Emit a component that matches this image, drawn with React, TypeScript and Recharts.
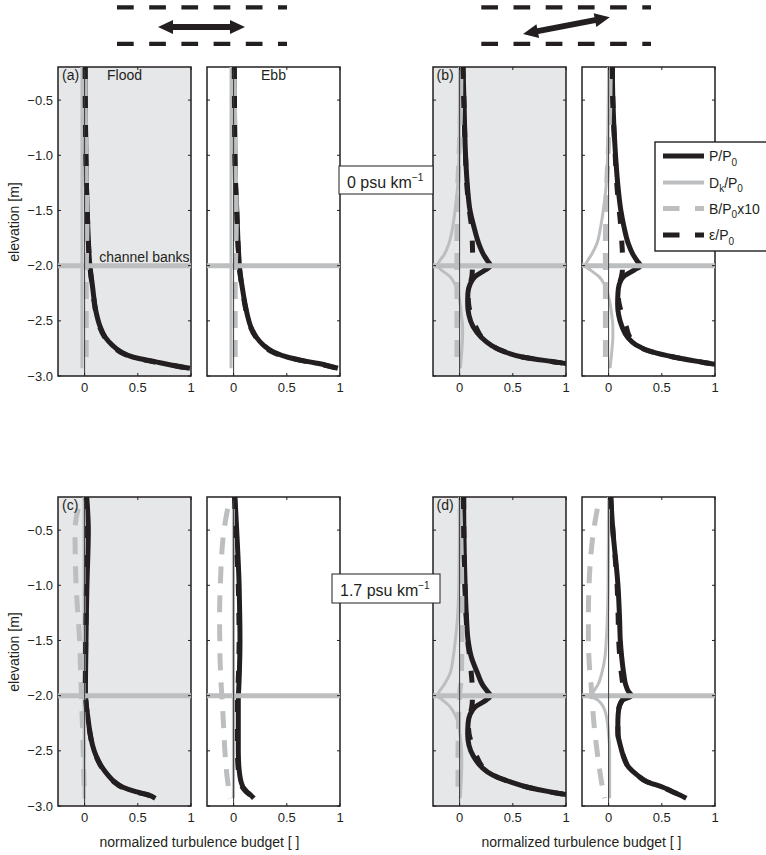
import React from 'react';
import { LineChart, Line, XAxis, YAxis, ReferenceLine, ReferenceArea, CartesianGrid } from 'recharts';

// ---------- shared axes ----------
const ELEVATION = [-0.2, -0.5, -1.0, -1.3, -1.5, -1.65, -1.8, -1.9, -1.96, -2.0, -2.04, -2.1, -2.17, -2.25, -2.35, -2.45, -2.55, -2.65, -2.72, -2.78, -2.83, -2.87, -2.9, -2.93];
const Y_TICKS = [-3.0, -2.5, -2.0, -1.5, -1.0, -0.5];
const X_TICKS = [0, 0.5, 1];
const X_DOMAIN: [number, number] = [-0.25, 1];
const Y_DOMAIN: [number, number] = [-3.0, -0.2];
const CHANNEL_BANKS = -2.0;

// ---------- (a) 0 psu/km, flood ----------
const A_FLOOD_P = [0.005, 0.006, 0.012, 0.018, 0.025, 0.03, 0.037, 0.042, 0.046, 0.05, 0.055, 0.062, 0.072, 0.082, 0.095, 0.115, 0.145, 0.195, 0.26, 0.34, 0.46, 0.66, 0.81, 0.99];
const A_FLOOD_DK = [-0.025, -0.025, -0.025, -0.025, -0.025, -0.025, -0.025, -0.025, -0.025, -0.025, -0.025, -0.025, -0.025, -0.025, -0.025, -0.025, -0.025, -0.025, -0.025, -0.025, -0.025, -0.025, -0.025, -0.025];
const A_FLOOD_B = [0.005, 0.006, 0.012, 0.018, 0.022, 0.022, 0.02, 0.018, 0.017, 0.016, 0.015, 0.015, 0.015, 0.015, 0.015, 0.015, 0.015, 0.015, 0.015, 0.015, 0.015, 0.015, 0.015, 0.015];
const A_FLOOD_E = [0.005, 0.006, 0.012, 0.018, 0.025, 0.03, 0.036, 0.041, 0.045, 0.049, 0.053, 0.06, 0.07, 0.08, 0.093, 0.112, 0.14, 0.19, 0.25, 0.33, 0.45, 0.64, 0.8, 0.98];
// ---------- (a) 0 psu/km, ebb ----------
const A_EBB_P = [0.006, 0.008, 0.012, 0.02, 0.03, 0.036, 0.042, 0.048, 0.052, 0.054, 0.058, 0.066, 0.077, 0.09, 0.108, 0.13, 0.16, 0.215, 0.28, 0.37, 0.51, 0.7, 0.86, 0.98];
const A_EBB_DK = [-0.024, -0.024, -0.024, -0.024, -0.024, -0.024, -0.024, -0.024, -0.024, -0.024, -0.024, -0.024, -0.024, -0.024, -0.024, -0.024, -0.024, -0.024, -0.024, -0.024, -0.024, -0.024, -0.024, -0.024];
const A_EBB_B = [0.006, 0.008, 0.012, 0.02, 0.025, 0.025, 0.022, 0.02, 0.018, 0.017, 0.016, 0.015, 0.015, 0.015, 0.015, 0.015, 0.015, 0.015, 0.015, 0.015, 0.015, 0.015, 0.015, 0.015];
const A_EBB_E = [0.006, 0.008, 0.012, 0.02, 0.029, 0.035, 0.041, 0.047, 0.051, 0.053, 0.057, 0.064, 0.075, 0.088, 0.105, 0.127, 0.156, 0.21, 0.275, 0.36, 0.5, 0.69, 0.85, 0.97];
// ---------- (b) 0 psu/km, flood ----------
const B_FLOOD_P = [0.032, 0.041, 0.056, 0.075, 0.098, 0.135, 0.18, 0.225, 0.265, 0.29, 0.24, 0.145, 0.098, 0.078, 0.076, 0.088, 0.125, 0.205, 0.295, 0.42, 0.6, 0.88, 1.1, 1.4];
const B_FLOOD_DK = [0.0, -0.002, -0.006, -0.02, -0.043, -0.065, -0.1, -0.145, -0.19, -0.21, -0.17, -0.09, -0.043, -0.012, 0.005, 0.018, 0.028, 0.028, 0.024, 0.02, 0.016, 0.013, 0.01, 0.008];
const B_FLOOD_B = [0.012, 0.01, -0.005, -0.018, -0.022, -0.025, -0.025, -0.025, -0.025, -0.025, -0.025, -0.025, -0.025, -0.025, -0.025, -0.025, -0.025, -0.025, -0.025, -0.025, -0.025, -0.025, -0.025, -0.025];
const B_FLOOD_E = [0.032, 0.04, 0.055, 0.07, 0.092, 0.112, 0.12, 0.122, 0.122, 0.121, 0.12, 0.115, 0.098, 0.08, 0.085, 0.11, 0.15, 0.21, 0.295, 0.42, 0.6, 0.88, 1.1, 1.4];
// ---------- (b) 0 psu/km, ebb ----------
const B_EBB_P = [0.035, 0.04, 0.065, 0.09, 0.115, 0.145, 0.185, 0.23, 0.27, 0.3, 0.24, 0.14, 0.1, 0.088, 0.085, 0.095, 0.125, 0.18, 0.26, 0.4, 0.62, 0.85, 1.05, 1.35];
const B_EBB_DK = [0.0, -0.003, -0.01, -0.025, -0.05, -0.075, -0.11, -0.16, -0.2, -0.22, -0.17, -0.09, -0.04, -0.01, 0.015, 0.03, 0.04, 0.04, 0.035, 0.03, 0.025, 0.02, 0.017, 0.015];
const B_EBB_B = [0.015, 0.012, -0.005, -0.02, -0.025, -0.028, -0.03, -0.03, -0.03, -0.03, -0.03, -0.03, -0.03, -0.03, -0.03, -0.03, -0.03, -0.03, -0.03, -0.03, -0.03, -0.03, -0.03, -0.03];
const B_EBB_E = [0.035, 0.04, 0.062, 0.08, 0.1, 0.115, 0.125, 0.13, 0.13, 0.13, 0.13, 0.12, 0.1, 0.09, 0.1, 0.13, 0.165, 0.2, 0.26, 0.4, 0.62, 0.85, 1.05, 1.35];
// ---------- (c) 1.7 psu/km, flood ----------
const C_FLOOD_P = [0.02, 0.035, 0.022, 0.016, 0.013, 0.011, 0.009, 0.008, 0.008, 0.009, 0.012, 0.018, 0.027, 0.038, 0.053, 0.075, 0.11, 0.165, 0.22, 0.28, 0.36, 0.48, 0.6, 0.665];
const C_FLOOD_DK = [-0.005, -0.005, -0.005, -0.005, -0.005, -0.005, -0.005, -0.005, -0.005, -0.005, -0.005, -0.005, -0.005, -0.005, -0.005, -0.005, -0.005, -0.005, -0.005, -0.005, -0.005, -0.005, -0.005, -0.005];
const C_FLOOD_B = [-0.03, -0.09, -0.08, -0.06, -0.047, -0.042, -0.037, -0.033, -0.031, -0.03, -0.028, -0.026, -0.024, -0.021, -0.018, -0.015, -0.012, -0.009, -0.007, -0.005, -0.003, -0.002, 0.0, 0.0];
const C_FLOOD_E = [0.015, 0.028, 0.018, 0.013, 0.01, 0.009, 0.008, 0.007, 0.007, 0.008, 0.011, 0.017, 0.026, 0.037, 0.052, 0.073, 0.108, 0.16, 0.215, 0.275, 0.35, 0.47, 0.59, 0.655];
// ---------- (c) 1.7 psu/km, ebb ----------
const C_EBB_P = [0.013, 0.029, 0.052, 0.058, 0.06, 0.058, 0.054, 0.05, 0.047, 0.045, 0.044, 0.044, 0.044, 0.044, 0.044, 0.044, 0.045, 0.05, 0.058, 0.07, 0.09, 0.125, 0.16, 0.19];
const C_EBB_DK = [-0.002, -0.002, -0.002, -0.002, -0.002, -0.002, -0.002, -0.002, -0.002, -0.002, -0.002, -0.002, -0.002, -0.002, -0.002, -0.002, -0.002, -0.002, -0.002, -0.002, -0.002, -0.002, -0.002, -0.002];
const C_EBB_B = [-0.034, -0.09, -0.125, -0.132, -0.13, -0.128, -0.122, -0.117, -0.113, -0.11, -0.108, -0.104, -0.1, -0.096, -0.09, -0.085, -0.078, -0.07, -0.063, -0.055, -0.048, -0.042, -0.037, -0.033];
const C_EBB_E = [0.008, 0.021, 0.044, 0.05, 0.052, 0.05, 0.046, 0.042, 0.039, 0.037, 0.036, 0.036, 0.036, 0.036, 0.036, 0.036, 0.037, 0.042, 0.05, 0.062, 0.082, 0.117, 0.152, 0.182];
// ---------- (d) 1.7 psu/km, flood ----------
const D_FLOOD_P = [0.038, 0.04, 0.052, 0.065, 0.08, 0.11, 0.17, 0.215, 0.26, 0.29, 0.25, 0.15, 0.098, 0.08, 0.076, 0.088, 0.13, 0.21, 0.31, 0.47, 0.64, 0.84, 1.03, 1.3];
const D_FLOOD_DK = [0.0, -0.002, -0.008, -0.02, -0.04, -0.06, -0.09, -0.145, -0.19, -0.21, -0.16, -0.09, -0.045, -0.012, 0.003, 0.015, 0.02, 0.02, 0.018, 0.015, 0.012, 0.01, 0.008, 0.006];
const D_FLOOD_B = [0.0, 0.01, 0.02, 0.022, 0.022, 0.02, 0.018, 0.01, 0.002, 0.0, -0.002, -0.005, -0.008, -0.01, -0.012, -0.014, -0.015, -0.015, -0.015, -0.015, -0.015, -0.015, -0.015, -0.015];
const D_FLOOD_E = [0.038, 0.04, 0.05, 0.062, 0.075, 0.095, 0.11, 0.118, 0.12, 0.12, 0.12, 0.115, 0.1, 0.082, 0.09, 0.12, 0.16, 0.22, 0.31, 0.47, 0.64, 0.84, 1.03, 1.3];
// ---------- (d) 1.7 psu/km, ebb ----------
const D_EBB_P = [0.02, 0.04, 0.088, 0.103, 0.11, 0.123, 0.142, 0.16, 0.185, 0.215, 0.13, 0.1, 0.09, 0.087, 0.088, 0.11, 0.14, 0.19, 0.27, 0.36, 0.51, 0.6, 0.67, 0.73];
const D_EBB_DK = [0.0, -0.002, -0.005, -0.012, -0.022, -0.034, -0.065, -0.1, -0.14, -0.165, -0.1, -0.05, -0.025, -0.01, 0.0, 0.008, 0.01, 0.01, 0.01, 0.01, 0.01, 0.01, 0.01, 0.01];
const D_EBB_B = [-0.084, -0.14, -0.184, -0.19, -0.19, -0.185, -0.175, -0.165, -0.16, -0.158, -0.155, -0.15, -0.145, -0.138, -0.127, -0.115, -0.102, -0.088, -0.077, -0.067, -0.057, -0.049, -0.043, -0.037];
const D_EBB_E = [0.02, 0.04, 0.08, 0.09, 0.095, 0.105, 0.12, 0.135, 0.15, 0.16, 0.13, 0.1, 0.09, 0.087, 0.088, 0.11, 0.14, 0.19, 0.27, 0.36, 0.51, 0.6, 0.67, 0.73];

// ---------- text ----------
const LEGEND_NAMES = ['P/P', 'D', 'B/P', 'ε/P'];
const X_TITLE = 'normalized turbulence budget [ ]';
const Y_TITLE = 'elevation [m]';

// ---------- style ----------
const INK = '#231f20';
const GREY = '#bcbec0';
const SHADE = '#e6e7e8';
const FONT = "'Liberation Sans', Arial, Helvetica, sans-serif";
const PW = 133;
const PH = 309;
const AXW = 50;
const AXH = 30;
const MT = 10;
const MR = 10;
const DASH_E = '12 17';
const DASH_B = '17 12';

const fmtY = (v: number) => v.toFixed(1).replace('-', '\u2212');
const fmtX = (v: number) => (v === 0 ? '0' : String(v));

type PanelProps = {
  left: number;
  top: number;
  shaded: boolean;
  yLabels: boolean;
  p: number[];
  dk: number[];
  b: number[];
  e: number[];
};

function Panel({ left, top, shaded, yLabels, p, dk, b, e }: PanelProps) {
  const rows = ELEVATION.map((z, i) => ({ z, p: p[i], dk: dk[i], b: b[i], e: e[i] }));
  const yTick = (props: any) => {
    const { x, y, payload } = props;
    const ax = x + 5;
    return (
      <g>
        {yLabels && (
          <text x={x} y={y} dy="0.35em" textAnchor="end" fontSize={13} fill={INK} fontFamily={FONT}>
            {fmtY(payload.value)}
          </text>
        )}
        <line x1={ax} x2={ax + 3} y1={y} y2={y} stroke={INK} strokeWidth={1} />
        <line x1={ax + PW} x2={ax + PW - 3} y1={y} y2={y} stroke={INK} strokeWidth={1} />
      </g>
    );
  };
  const xTick = (props: any) => {
    const { x, y, payload } = props;
    const ay = y - 7;
    return (
      <g>
        <text x={x} y={y} dy="0.71em" textAnchor="middle" fontSize={13} fill={INK} fontFamily={FONT}>
          {fmtX(payload.value)}
        </text>
        <line x1={x} x2={x} y1={ay} y2={ay - 3} stroke={INK} strokeWidth={1} />
        <line x1={x} x2={x} y1={ay - PH} y2={ay - PH + 3} stroke={INK} strokeWidth={1} />
      </g>
    );
  };
  return (
    <div style={{ position: 'absolute', left: left - AXW, top: top - MT }}>
      <LineChart
        width={AXW + PW + MR}
        height={MT + PH + AXH}
        layout="vertical"
        data={rows}
        margin={{ top: MT, right: MR, bottom: 0, left: 0 }}
      >
        <CartesianGrid horizontal={false} vertical={false} fill={shaded ? SHADE : '#ffffff'} fillOpacity={1} />
        <XAxis
          type="number"
          domain={X_DOMAIN}
          ticks={X_TICKS}
          interval={0}
          allowDataOverflow
          height={AXH}
          tickSize={0}
          tickMargin={7}
          tickLine={false}
          axisLine={false}
          tick={xTick}
        />
        <YAxis
          type="number"
          dataKey="z"
          domain={Y_DOMAIN}
          ticks={Y_TICKS}
          interval={0}
          reversed
          allowDataOverflow
          width={AXW}
          tickSize={0}
          tickMargin={5}
          tickLine={false}
          axisLine={false}
          tick={yTick}
        />
        <Line dataKey="p" type="monotone" stroke={INK} strokeWidth={5} dot={false} isAnimationActive={false} strokeLinejoin="round" />
        <Line dataKey="dk" type="monotone" stroke={GREY} strokeWidth={3} dot={false} isAnimationActive={false} strokeLinejoin="round" />
        <Line dataKey="b" type="monotone" stroke={GREY} strokeWidth={5} strokeDasharray={DASH_B} strokeDashoffset={17} dot={false} isAnimationActive={false} />
        <Line dataKey="e" type="monotone" stroke={INK} strokeWidth={5} strokeDasharray={DASH_E} dot={false} isAnimationActive={false} />
        <ReferenceLine y={CHANNEL_BANKS} stroke={GREY} strokeWidth={5} />
        <ReferenceLine x={0} stroke="#3a3a3c" strokeWidth={1} />
        <ReferenceArea x1={X_DOMAIN[0]} x2={X_DOMAIN[1]} y1={Y_DOMAIN[0]} y2={Y_DOMAIN[1]} fill="none" fillOpacity={0} stroke={INK} strokeWidth={1.5} />
      </LineChart>
    </div>
  );
}

const COLS = [58, 207, 433, 582];
const ROWS = [67, 497];

const PANELS = [
  { left: COLS[0], top: ROWS[0], shaded: true, yLabels: true, p: A_FLOOD_P, dk: A_FLOOD_DK, b: A_FLOOD_B, e: A_FLOOD_E },
  { left: COLS[1], top: ROWS[0], shaded: false, yLabels: false, p: A_EBB_P, dk: A_EBB_DK, b: A_EBB_B, e: A_EBB_E },
  { left: COLS[2], top: ROWS[0], shaded: true, yLabels: false, p: B_FLOOD_P, dk: B_FLOOD_DK, b: B_FLOOD_B, e: B_FLOOD_E },
  { left: COLS[3], top: ROWS[0], shaded: false, yLabels: false, p: B_EBB_P, dk: B_EBB_DK, b: B_EBB_B, e: B_EBB_E },
  { left: COLS[0], top: ROWS[1], shaded: true, yLabels: true, p: C_FLOOD_P, dk: C_FLOOD_DK, b: C_FLOOD_B, e: C_FLOOD_E },
  { left: COLS[1], top: ROWS[1], shaded: false, yLabels: false, p: C_EBB_P, dk: C_EBB_DK, b: C_EBB_B, e: C_EBB_E },
  { left: COLS[2], top: ROWS[1], shaded: true, yLabels: false, p: D_FLOOD_P, dk: D_FLOOD_DK, b: D_FLOOD_B, e: D_FLOOD_E },
  { left: COLS[3], top: ROWS[1], shaded: false, yLabels: false, p: D_EBB_P, dk: D_EBB_DK, b: D_EBB_B, e: D_EBB_E },
];

function DoubleArrow({ cx, cy, len, angle }: { cx: number; cy: number; len: number; angle: number }) {
  const h = len / 2;
  const hl = 15;
  const hw = 7;
  const sw = 3;
  const pts = [
    [-h, 0], [-h + hl, -hw], [-h + hl, -sw], [h - hl, -sw], [h - hl, -hw], [h, 0],
    [h - hl, hw], [h - hl, sw], [-h + hl, sw], [-h + hl, hw],
  ].map((q) => q.join(',')).join(' ');
  return <polygon points={pts} fill={INK} transform={`translate(${cx},${cy}) rotate(${angle})`} />;
}

function Channel({ x1, x2 }: { x1: number; x2: number }) {
  return (
    <g>
      <line x1={x1} x2={x2} y1={7.3} y2={7.3} stroke={INK} strokeWidth={4.2} strokeDasharray="16.7 15.5" />
      <line x1={x1} x2={x2} y1={43.8} y2={43.8} stroke={INK} strokeWidth={4.2} strokeDasharray="16.7 15.5" />
    </g>
  );
}

const LEGEND_ROWS = [156, 182.5, 208.5, 235];

export default function App() {
  const t = { fontFamily: FONT, fill: INK } as const;
  return (
    <div style={{ position: 'absolute', left: 0, top: 0, width: 766, height: 855, background: '#ffffff', overflow: 'hidden' }}>
      {PANELS.map((pp, i) => (
        <Panel key={i} {...pp} />
      ))}
      <svg width={766} height={855} style={{ position: 'absolute', left: 0, top: 0 }}>
        {/* channel sketches */}
        <Channel x1={117} x2={287} />
        <DoubleArrow cx={201.5} cy={27} len={87} angle={0} />
        <Channel x1={481.3} x2={651} />
        <DoubleArrow cx={566.4} cy={25.6} len={88.3} angle={-10.9} />

        {/* panel annotations */}
        <text x={62} y={80} fontSize={14} {...t}>(a)</text>
        <text x={107} y={80} fontSize={14} {...t}>Flood</text>
        <text x={273.5} y={80} fontSize={14} textAnchor="middle" {...t}>Ebb</text>
        <text x={436.5} y={80} fontSize={14} {...t}>(b)</text>
        <text x={62} y={510} fontSize={14} {...t}>(c)</text>
        <text x={436.5} y={510} fontSize={14} {...t}>(d)</text>
        <text x={189.5} y={262} fontSize={14} textAnchor="end" {...t}>channel banks</text>

        {/* gradient boxes */}
        <rect x={339} y={166} width={94} height={28} fill="#ffffff" stroke={INK} strokeWidth={1} />
        <text x={347} y={188} fontSize={16} {...t}>
          0 psu km<tspan dy={-7} fontSize={10}>{'\u22121'}</tspan>
        </text>
        <rect x={332} y={574} width={108} height={29} fill="#ffffff" stroke={INK} strokeWidth={1} />
        <text x={340} y={596} fontSize={16} {...t}>
          1.7 psu km<tspan dy={-7} fontSize={10}>{'\u22121'}</tspan>
        </text>

        {/* axis titles */}
        <text x={14} y={222} fontSize={14} textAnchor="middle" dy="0.35em" transform="rotate(-90 14 222)" {...t}>{Y_TITLE}</text>
        <text x={14} y={652} fontSize={14} textAnchor="middle" dy="0.35em" transform="rotate(-90 14 652)" {...t}>{Y_TITLE}</text>
        <text x={199.5} y={847} fontSize={14} textAnchor="middle" {...t}>{X_TITLE}</text>
        <text x={581.5} y={847} fontSize={14} textAnchor="middle" {...t}>{X_TITLE}</text>

        {/* legend */}
        <rect x={655} y={142} width={130} height={109} fill="#ffffff" stroke={INK} strokeWidth={1.4} />
        <line x1={663} x2={704} y1={LEGEND_ROWS[0]} y2={LEGEND_ROWS[0]} stroke={INK} strokeWidth={5} />
        <line x1={663} x2={704} y1={LEGEND_ROWS[1]} y2={LEGEND_ROWS[1]} stroke={GREY} strokeWidth={4} />
        <line x1={663} x2={704} y1={LEGEND_ROWS[2]} y2={LEGEND_ROWS[2]} stroke={GREY} strokeWidth={5} strokeDasharray="16.5 15.5" />
        <line x1={663} x2={704} y1={LEGEND_ROWS[3]} y2={LEGEND_ROWS[3]} stroke={INK} strokeWidth={5} strokeDasharray="16.5 15.5" />
        <text x={709} y={LEGEND_ROWS[0] + 5} fontSize={14} {...t}>
          {LEGEND_NAMES[0]}<tspan dy={4.5} fontSize={10}>0</tspan>
        </text>
        <text x={709} y={LEGEND_ROWS[1] + 5} fontSize={14} {...t}>
          {LEGEND_NAMES[1]}<tspan dy={4.5} fontSize={10}>k</tspan><tspan dy={-4.5}>/P</tspan><tspan dy={4.5} fontSize={10}>0</tspan>
        </text>
        <text x={709} y={LEGEND_ROWS[2] + 5} fontSize={14} {...t}>
          {LEGEND_NAMES[2]}<tspan dy={4.5} fontSize={10}>0</tspan><tspan dy={-4.5}>x10</tspan>
        </text>
        <text x={709} y={LEGEND_ROWS[3] + 5} fontSize={14} {...t}>
          {LEGEND_NAMES[3]}<tspan dy={4.5} fontSize={10}>0</tspan>
        </text>
      </svg>
    </div>
  );
}
